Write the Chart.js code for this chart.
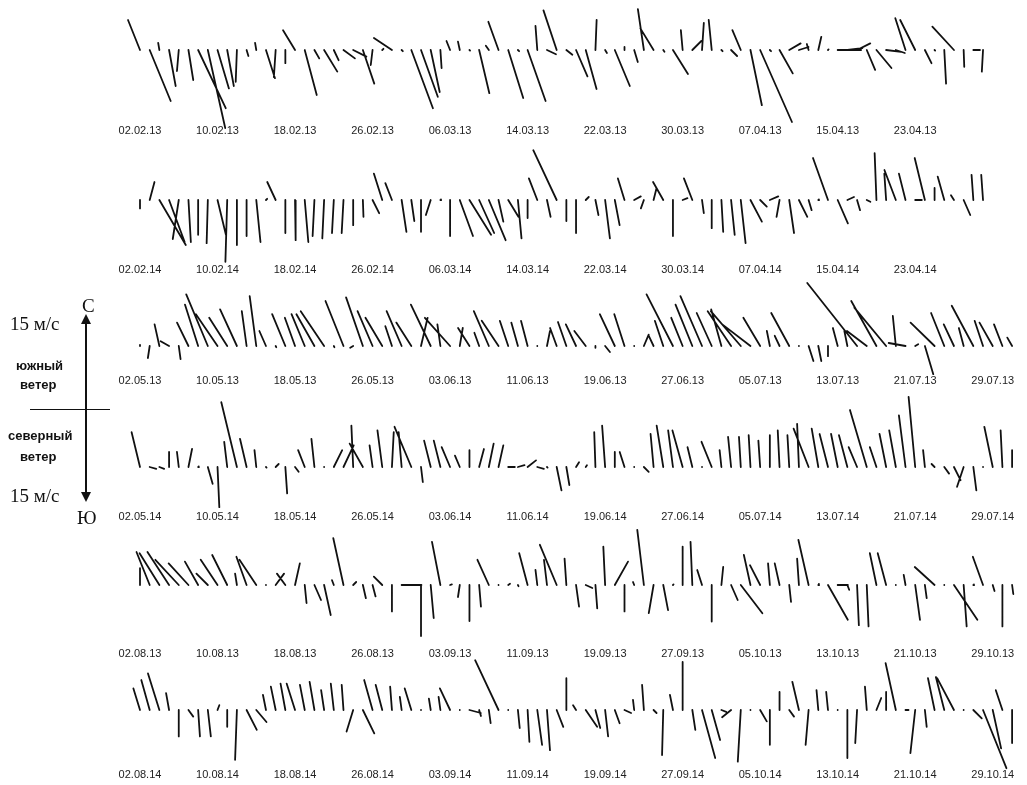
<!DOCTYPE html>
<html>
<head>
<meta charset="utf-8">
<script src="https://cdn.jsdelivr.net/npm/chart.js@4.4.1/dist/chart.umd.min.js"></script>
<style>
  body { margin: 0; background: #fff; }
  #wrap { position: relative; width: 1027px; height: 785px; overflow: hidden; }
  #windChart { position: absolute; left: 0; top: 0; }
  .note { position: absolute; white-space: nowrap; color: #111; }
  .serif { font-family: "Liberation Serif", "DejaVu Serif", serif; font-size: 19px; }
  .bold { font-family: "Liberation Sans", Arial, sans-serif; font-size: 13px; font-weight: bold; }
  .vline { position: absolute; left: 85px; top: 322px; width: 2px; height: 172px; background: #111; }
  .hline { position: absolute; left: 30px; top: 409px; width: 80px; height: 1px; background: #111; }
  .up { position: absolute; left: 81px; top: 314px; width: 0; height: 0;
        border-left: 5px solid transparent; border-right: 5px solid transparent; border-bottom: 10px solid #111; }
  .down { position: absolute; left: 81px; top: 492px; width: 0; height: 0;
        border-left: 5px solid transparent; border-right: 5px solid transparent; border-top: 10px solid #111; }
</style>
</head>
<body>
<div id="wrap">
  <canvas id="windChart" width="1027" height="785"></canvas>
  <div class="note serif" style="left:10px;top:313px;">15 м/с</div>
  <div class="note serif" style="left:82px;top:295px;">С</div>
  <div class="up"></div>
  <div class="vline"></div>
  <div class="down"></div>
  <div class="note bold" style="left:16px;top:358px;">южный</div>
  <div class="note bold" style="left:20px;top:377px;">ветер</div>
  <div class="hline"></div>
  <div class="note bold" style="left:8px;top:428px;">северный</div>
  <div class="note bold" style="left:20px;top:449px;">ветер</div>
  <div class="note serif" style="left:10px;top:485px;">15 м/с</div>
  <div class="note serif" style="left:77px;top:507px;">Ю</div>
</div>
<script>
// wind components per day, m/s (u = east, v = north)
const feb13U = [-2,3.5,-0.2,1.1,-0.3,0.8,4.6,2.9,1.9,1.1,-0.2,0.3,-0.2,1.5,-0.3,0,-2,2,0.8,2.2,0.8,1.9,2.2,1.9,-0.3,0.2,-3,0.2,3.6,2.8,1.5,0.2,-0.6,-0.3,0.1,1.7,-0.5,-1.7,2.5,0.2,3,-0.3,1.5,-2.2,1,
  1.9,1.8,0.2,0.3,2.5,0,0.6,-1,-2.2,0.2,2.5,-0.3,1.5,0.3,-0.5,0.2,1,-1.4,1.9,5.3,0.2,2.2,1.9,1.6,-0.3,0.5,0.1,3.9,2.5,2.2,1.4,2.5,2.5,1.5,-1.7,-2.5,1.1,0.1,0.3,-3.6,0.1,1.1,-0.2];
const feb13V = [5,-8.5,1.2,-6,-3.5,-5,-9.7,-13,-6.4,-6,-5.3,-1,1.2,-4.7,-4.5,-2.2,3.3,-7.5,-1.4,-3.6,-1.7,-1.4,-1.1,-5.6,-2.5,0.2,2,-0.2,-9.7,-7.8,-7,-3,1.5,1.4,-0.1,-7.2,0.7,4.7,-8,-0.2,-8.5,4,-0.7,6.6,-0.8,
  -4.4,-6.5,5,-0.5,-6,0.5,-2,6.8,3.6,-0.3,-4,3.3,1.5,4.5,5,-0.2,-1,3.3,-9.2,-12,-0.2,-3.9,1.1,0.5,1,2.2,0.1,0,0.3,1.1,-3.3,-3,-0.3,-0.5,5.3,5,-2.2,-0.1,-5.6,3.9,-2.8,0,-3.6];

const feb14U = [0,0.8,4.4,2.6,-1,0.4,0,-0.2,1.4,-0.3,0,0,0.7,0.2,-1.4,0,0.1,0.6,-0.3,-0.3,-0.3,-0.3,0,0.1,1.1,-1.4,-1.1,0.8,0.5,0,-0.8,0.1,0,2.2,3.6,2.5,2.8,0.8,1.7,0.6,0,-1.4,0.6,-3.9,0,
  0,0.5,0.5,0.8,0.8,-1.1,1.1,-0.5,0.5,-1.7,0,0.8,-1.4,0.3,0,0.3,0.6,0.8,1.9,1.1,1.4,-0.5,0.8,1.4,0.5,0.1,-2.5,1.7,1.1,0.5,0.6,-0.3,-0.3,-1.9,-1.1,1.1,-1.7,0,-1.1,-0.5,1.1,-0.3,-0.3];
const feb14V = [-1.4,3,-7.5,-7,-6.5,-7,-5.8,-7.2,-5.8,-10.3,-7.5,-6,-7,0.2,3,-5.5,-6.7,-7,-6,-6.4,-5.5,-5.5,-4.2,-2.8,-2.2,4.4,2.8,-5.3,-3.5,-5.3,-2.5,0.1,-6,-6,-5.8,-5.5,-6.7,-3.6,-2.8,-6.4,-3,3.6,-2.8,8.3,-3.5,
  -5.5,0.5,-2.5,-6.4,-4.2,3.6,0.6,-1.4,2,3,-6,0.3,3.6,-2.2,-4.7,-5.3,-5.8,-7.2,-3.6,-1.1,0.6,-2.8,-5.5,-2.8,-1.7,0.1,7,-3.9,0.5,-1.7,-0.3,7.8,4.4,5,4.4,0,7,2,3.9,0.8,-2.5,4.2,4.2];

const may13U = [0,-0.3,-0.8,-1.4,0.3,-1.9,-2.2,-3.6,-3.6,-3,-2.8,-0.8,-1.1,-1.1,0.1,-2.2,-1.7,-2.2,-3,-3.9,0.1,-3,-0.5,-2.8,-2.5,-2.8,-1.1,-2.5,-2.5,1.1,-3.3,-0.5,-4.2,0.5,-1.9,-0.8,-2.5,-2.8,-1.4,-1.1,-1.1,0,0.5,-1.1,-1.4,
  -1.7,-1.9,0,0.8,-2.5,-1.7,0,0.8,-0.8,-1.4,-4.4,-1.9,-2.8,-3.6,-2.5,-1.7,-3.9,-5,-4.7,-2.8,-0.5,-0.8,-3,0,0.8,0.5,0,-0.8,-0.5,-8.3,-3.3,-4.2,-5.3,-0.5,-2.8,0.5,1.4,-4,-2.2,-1.7,-0.8,-3.6,-1.4,-2.2,-1.4,-0.8];
const may13V = [0.2,-2,3.6,0.8,-2.2,3.9,6.9,8.6,5.3,4.7,6.1,5.8,8.3,2.5,-0.2,5.3,4.7,5.3,5.3,5.8,-0.2,7.5,-0.3,8.1,5.8,4.7,3.3,5.8,3.9,4.7,6.9,3.6,4.7,3,3,2.2,5.8,4.2,4.2,3.9,4.2,0,2.5,3,4,
  3.6,2.5,-0.3,-1,5.3,5.3,0,1.9,1.7,4.2,8.6,4.7,6.9,8.3,5.5,6.1,5.8,5.8,3.6,4.7,2.5,1.7,5.5,0,-2.5,-2.5,-1.7,3,2.5,10.5,2.5,7.5,6.4,5,0.5,0.3,-4.7,3.9,5.5,3.6,3,6.7,4.2,3.9,3.6,1.4];

const may14U = [-1.4,1.1,0.8,0,-0.3,0.6,0.1,0.8,0.3,-0.5,-2.6,-1.1,-0.3,0.1,0.5,0.3,0.6,-1.1,-0.5,0,1.4,1.7,-0.3,-2.2,-0.5,-0.8,0.3,-0.5,-2.8,0.3,-1.1,-1.1,-1.4,-0.8,0,0.8,0.8,0.8,1.1,1.1,1.4,1.1,0.1,0.8,0.5,
  0.5,0.2,-0.2,-0.5,0,-0.8,0,0.8,-0.5,-1.1,-0.8,-1.7,-0.8,0,-1.7,-0.3,-0.5,-0.3,-0.3,-0.3,0,-0.3,-0.3,-0.3,-2.5,-1.1,-1.4,-1.1,-1.4,-1.4,-2.8,-1.1,-1.1,-1.1,-1.1,-1.1,-0.3,-0.5,0.8,1.1,-1.1,0.5,0,-1.4,-0.3,0];
const may14V = [5.8,-0.3,-0.3,2.5,2.5,3,0.1,-2.8,-6.7,4.2,10.8,4.7,2.8,-0.1,0.5,-4.4,-0.8,2.8,4.7,0,2.8,3.6,6.9,3.9,3.6,6.1,5.8,5.8,6.7,-2.5,4.4,4.4,3.3,1.9,2.8,3,3.9,3.6,0,0.3,1.1,-0.3,-0.1,-3.9,-3,
  0.8,0.3,5.8,6.9,2.5,2.5,0,-0.8,5.5,6.9,6.1,6.1,3.3,0,4.2,2.8,5,5,5.3,4.4,5.3,6.1,5.3,7.2,6.4,6.4,5.5,5.5,5.3,3.3,9.5,3.3,5.5,6.1,8.6,11.7,2.8,0.5,-1.1,-2.2,-3.3,-3.9,0,6.7,6.1,2.8];

const aug13U = [0,-2.2,-3.3,-3.6,-3.9,-3.3,-2.2,-1.9,-2.8,-2.5,-0.3,-1.7,-2.8,0,1.4,-1.4,0.8,0.3,1.1,1.1,-0.3,-1.7,0.5,0.5,0.5,-1.4,0,3.3,0,0,0.5,-1.4,0.3,-0.3,0,0.3,-1.9,0,0.3,0.1,-1.4,-0.3,-0.5,-2.8,-0.3,
  0.5,1.1,0.3,-0.3,2.2,0,-0.2,-1.1,-0.8,0.8,0.1,0,-0.3,-0.8,0,0.3,1.1,3.6,-1.1,-1.7,-0.3,-0.8,0.3,-0.3,-1.7,0.1,3.3,1.7,0.3,0.3,0.3,-1.1,-1.4,0,-0.3,0.8,0.3,-3.3,0,3.9,0.5,0.1,-1.7,0.3,0,0.2];
const aug13V = [2.8,5.5,5.3,5.5,4.2,3.6,3.9,1.9,4.2,5,1.9,4.7,4.2,0,1.9,1.9,3.6,-3,-2.5,-5,0.8,7.8,0.5,-2.2,-1.9,1.4,-4.4,0,0,-8.5,-5.5,7.2,0.1,-2,-6,-3.6,4.2,0,0.2,-0.2,5.3,2.5,4.2,6.7,4.4,
  -3.6,-0.5,-3.9,6.4,3.9,-4.4,0.5,9.2,-4.7,-4.2,0.1,6.4,7.2,2.5,-6.1,3,-2.5,-4.7,5,3.3,3.6,3.6,-2.8,4.4,7.5,0.2,-5.8,0,-0.8,-6.7,-6.9,5.3,5.3,0,1.7,-5.8,-2.2,3,0,-5.8,-6.9,0.1,4.7,-1,-6.9,-1.5];

const aug14U = [-1.1,-1.4,-1.9,-0.5,0,0.8,0.3,0.5,0.3,0,-0.3,1.7,1.7,-0.5,-0.8,-0.8,-1.4,-0.8,-0.8,-0.5,-0.5,-0.3,-1.1,1.9,-1.4,-1.1,-0.3,-0.3,-1.1,0,-0.3,-0.3,-1.7,0,1.9,0.3,0.3,-3.9,0,0.3,0.3,0.8,0.5,1.1,0,
  -0.5,1.9,0.8,0.5,0.8,1.1,-0.2,-0.3,0.5,-0.2,-0.5,0,0.5,2.2,1.4,0.8,-1.5,-0.5,0,1.1,0,0,0.8,-1.1,-0.5,-0.3,-0.3,0,0,-0.3,-0.3,0.8,0,-1.7,0.5,-0.8,0.3,-1.1,-1.4,-2.8,0,1.4,3.9,1.4,-1.1,0];
const aug14V = [3.6,5,6.1,2.8,-4.4,-1.1,-4.4,-4.4,0.8,-2.8,-8.3,-3.3,-2,2.5,3.9,4.4,4.4,4.2,4.7,3.3,4.4,4.2,-3.6,-3.9,5,4.2,3.9,2.2,3.6,0,1.9,2.2,3.6,0,-0.5,-1,-2.2,8.3,0,-3,-5.3,-5.8,-6.7,-2.8,5.3,
  0.8,-2.8,-3,-4.4,-2.2,-0.5,1.7,4.2,-0.5,-7.5,2.5,8,-3.3,-8,-5,-0.3,-1.2,-8.6,0,-1.9,-5.8,3,-1.1,4.7,-5.8,3.3,3,0,-8,-5.5,3.9,2,3,7.8,0,-7.2,-2.8,5.3,5.5,5.3,0,-1.4,-9.7,-6.4,3.3,-5.5];

// tick labels, one every 8 days
const feb13Ticks = ['02.02.13','10.02.13','18.02.13','26.02.13','06.03.13','14.03.13','22.03.13','30.03.13','07.04.13','15.04.13','23.04.13'];
const feb14Ticks = ['02.02.14','10.02.14','18.02.14','26.02.14','06.03.14','14.03.14','22.03.14','30.03.14','07.04.14','15.04.14','23.04.14'];
const may13Ticks = ['02.05.13','10.05.13','18.05.13','26.05.13','03.06.13','11.06.13','19.06.13','27.06.13','05.07.13','13.07.13','21.07.13','29.07.13'];
const may14Ticks = ['02.05.14','10.05.14','18.05.14','26.05.14','03.06.14','11.06.14','19.06.14','27.06.14','05.07.14','13.07.14','21.07.14','29.07.14'];
const aug13Ticks = ['02.08.13','10.08.13','18.08.13','26.08.13','03.09.13','11.09.13','19.09.13','27.09.13','05.10.13','13.10.13','21.10.13','29.10.13'];
const aug14Ticks = ['02.08.14','10.08.14','18.08.14','26.08.14','03.09.14','11.09.14','19.09.14','27.09.14','05.10.14','13.10.14','21.10.14','29.10.14'];

// layout: page pixels per unit
const W = 1027, H = 785;
const PX_DAY = 9.69, X0 = 140;     // day 0 sits at x = 140
const PX_MS = 6;                   // 1 m/s = 6 px
const DAY_PER_MS = PX_MS / PX_DAY;
const xMin = -X0 / PX_DAY, xMax = (W - X0) / PX_DAY;
const yVal = px => -px / PX_MS;

const rows = [
  { u: feb13U, v: feb13V, ticks: feb13Ticks, base: 50,  label: 131 },
  { u: feb14U, v: feb14V, ticks: feb14Ticks, base: 200, label: 270 },
  { u: may13U, v: may13V, ticks: may13Ticks, base: 346, label: 381 },
  { u: may14U, v: may14V, ticks: may14Ticks, base: 467, label: 517 },
  { u: aug13U, v: aug13V, ticks: aug13Ticks, base: 585, label: 654 },
  { u: aug14U, v: aug14V, ticks: aug14Ticks, base: 710, label: 775 }
];

function sticks(us, vs, basePx) {
  const b = yVal(basePx);
  const pts = [];
  us.forEach((u, i) => {
    pts.push({ x: i, y: b });
    pts.push({ x: i + u * DAY_PER_MS, y: b + vs[i] });
    pts.push({ x: i, y: null });
  });
  return pts;
}

const scales = {
  x: { type: 'linear', min: xMin, max: xMax, display: false },
  y: { type: 'linear', min: yVal(H), max: 0, display: false }
};

rows.forEach((r, k) => {
  scales['x' + (k + 1)] = {
    type: 'linear',
    axis: 'x',
    min: xMin,
    max: xMax,
    position: { y: yVal(r.label - 6.6) },
    grid: { display: false, drawTicks: false },
    border: { display: false },
    afterBuildTicks: axis => { axis.ticks = r.ticks.map((_, j) => ({ value: j * 8 })); },
    ticks: {
      autoSkip: false,
      maxRotation: 0,
      minRotation: 0,
      padding: 0,
      color: '#222',
      font: { family: 'Liberation Sans, Arial, sans-serif', size: 11 },
      callback: value => r.ticks[Math.round(value / 8)]
    }
  };
});

new Chart(document.getElementById('windChart'), {
  type: 'scatter',
  data: {
    datasets: rows.map(r => ({
      data: sticks(r.u, r.v, r.base),
      showLine: true,
      spanGaps: false,
      borderColor: '#111',
      borderWidth: 1.8,
      borderCapStyle: 'round',
      pointRadius: 0,
      clip: false
    }))
  },
  options: {
    responsive: false,
    animation: false,
    layout: { padding: 0 },
    plugins: { legend: { display: false }, tooltip: { enabled: false } },
    scales: scales
  }
});
</script>
</body>
</html>
